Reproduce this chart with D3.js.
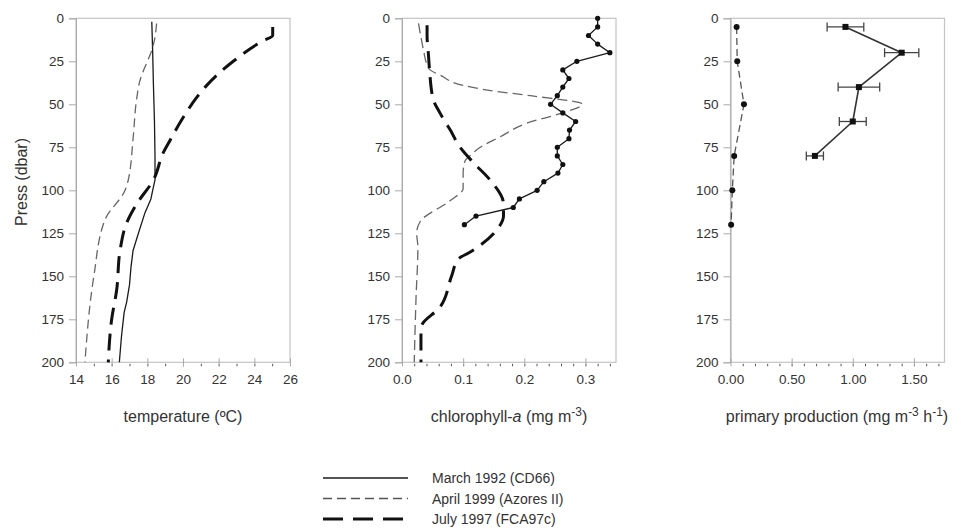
<!DOCTYPE html>
<html>
<head>
<meta charset="utf-8">
<title>Temperature, chlorophyll-a and primary production profiles</title>
<script src="https://cdn.jsdelivr.net/npm/d3@7"></script>
<style>
    body { margin: 0; background: #fff; }
    svg { font-family: "Liberation Sans", Arial, sans-serif; }
</style>
</head>
<body>
<svg id="chart" width="961" height="531"></svg>
<script>
// depth axis (dbar)
var depthTicks = [0, 25, 50, 75, 100, 125, 150, 175, 200];

// temperature profiles: [depth, degC]
var tempMarch = [[2,18.25],[20,18.3],[38,18.34],[60,18.4],[80,18.43],[94,18.43],[100,18.3],[105,18.2],[113,17.87],[125,17.5],[135,17.2],[145,17.08],[155,17.0],[165,16.84],[171,16.7],[185,16.55],[200,16.43]];
var tempApril = [[3,18.52],[14,18.37],[20,18.2],[26,17.96],[36,17.59],[47,17.4],[70,17.2],[94,16.93],[100,16.75],[117,15.63],[150,15.0],[200,14.5]];
var tempJuly  = [[5,25.03],[10,25.03],[13,24.5],[25,22.82],[39,21.33],[46,20.77],[59,19.93],[71,19.27],[78,18.9],[94,18.34],[108,17.4],[119,16.84],[135,16.47],[158,16.28],[175,16.0],[200,15.81]];

// chlorophyll-a: [depth, mg m-3]
var chlMarch = [[0,0.32],[5,0.32],[10,0.305],[15,0.32],[20,0.34],[25,0.286],[30,0.263],[35,0.273],[40,0.263],[45,0.254],[50,0.243],[55,0.263],[60,0.284],[65,0.274],[70,0.273],[75,0.254],[80,0.254],[85,0.263],[90,0.255],[95,0.232],[100,0.221],[105,0.192],[110,0.182],[115,0.121],[120,0.102]];
var chlApril = [[3,0.027],[9,0.03],[20,0.036],[26,0.04],[30,0.046],[33,0.062],[39,0.1],[42,0.145],[45,0.21],[50,0.295],[55,0.262],[61,0.204],[69,0.16],[75,0.128],[80,0.111],[83,0.103],[90,0.1],[99,0.1],[106,0.079],[118,0.03],[125,0.024],[133,0.026],[162,0.023],[200,0.02]];
var chlJuly  = [[4,0.041],[10,0.041],[20,0.043],[30,0.045],[47,0.051],[55,0.062],[65,0.079],[75,0.095],[84,0.117],[94,0.144],[108,0.166],[115,0.166],[123,0.155],[136,0.111],[140,0.092],[150,0.081],[168,0.062],[179,0.032],[185,0.031],[200,0.031]];

// primary production: [depth, mg m-3 h-1], March with error
var ppMarch    = [[5,0.94],[20,1.40],[40,1.05],[60,1.00],[80,0.69]];
var ppMarchErr = [0.15, 0.14, 0.17, 0.11, 0.07];
var ppApril    = [[5,0.05],[25,0.055],[50,0.11],[80,0.03],[100,0.015],[120,0.005]];

var svg = d3.select("#chart");
var y = d3.scaleLinear().domain([0, 200]).range([18.3, 362.3]);

var styles = {
    march: { stroke: "#1a1a1a", width: 1.3, dash: null },
    april: { stroke: "#666", width: 1.3, dash: "10,5" },
    july:  { stroke: "#111", width: 3, dash: "17,9" }
};

function makePanel(cfg) {
    var x = d3.scaleLinear().domain(cfg.domain).range([cfg.left, cfg.left + 214]);
    var g = svg.append("g");

    // frame
    g.append("rect")
        .attr("x", x.range()[0]).attr("y", y(0))
        .attr("width", 214).attr("height", y(200) - y(0))
        .attr("fill", "none").attr("stroke", "#c4c4c4").attr("stroke-width", 1.2);

    // minor ticks on x
    g.append("g")
        .attr("transform", "translate(0," + y(200) + ")")
        .call(d3.axisBottom(x).tickValues(cfg.minor).tickSize(4).tickFormat(""))
        .call(function(s) {
            s.select(".domain").remove();
            s.selectAll(".tick line").attr("stroke", "#555").attr("y1", 1.5);
        });

    // major ticks + labels on x
    g.append("g")
        .attr("transform", "translate(0," + y(200) + ")")
        .call(d3.axisBottom(x).tickValues(cfg.major).tickSize(4).tickPadding(8).tickFormat(cfg.fmt))
        .call(function(s) {
            s.select(".domain").remove();
            s.selectAll(".tick line").attr("stroke", "#aaa").attr("y1", -4);
            s.selectAll(".tick text").attr("fill", "#333").style("font-size", "13.5px")
                .style("font-family", "Liberation Sans, Arial, sans-serif");
        });

    // y axis
    g.append("g")
        .attr("transform", "translate(" + x.range()[0] + ",0)")
        .call(d3.axisLeft(y).tickValues(depthTicks).tickSize(7).tickPadding(5))
        .call(function(s) {
            s.select(".domain").attr("stroke", "#aaa");
            s.selectAll(".tick line").attr("stroke", "#aaa");
            s.selectAll(".tick text").attr("fill", "#333").style("font-size", "13.5px")
                .style("font-family", "Liberation Sans, Arial, sans-serif");
        });

    return { g: g, x: x };
}

function drawLine(p, data, st, curve) {
    var line = d3.line()
        .x(function(d) { return p.x(d[1]); })
        .y(function(d) { return y(d[0]); })
        .curve(curve || d3.curveLinear);
    p.g.append("path")
        .datum(data)
        .attr("d", line)
        .attr("fill", "none")
        .attr("stroke", st.stroke)
        .attr("stroke-width", st.width)
        .attr("stroke-dasharray", st.dash)
        .attr("stroke-linejoin", "round");
}

// panel 1: temperature
var p1 = makePanel({ left: 76, domain: [14, 26], major: d3.range(14, 27, 2), minor: d3.range(15, 26, 1), fmt: d3.format("d") });
drawLine(p1, tempMarch, styles.march);
drawLine(p1, tempApril, { stroke: "#666", width: 1.3, dash: "9,5" }, d3.curveMonotoneY);
drawLine(p1, tempJuly, styles.july, d3.curveMonotoneY);

// panel 2: chlorophyll-a
var p2 = makePanel({ left: 402, domain: [0, 0.35], major: [0, 0.1, 0.2, 0.3], minor: d3.range(1, 18).map(function(i) { return i * 0.02; }), fmt: d3.format(".1f") });
drawLine(p2, chlApril, styles.april, d3.curveMonotoneY);
drawLine(p2, chlJuly, styles.july, d3.curveMonotoneY);
drawLine(p2, chlMarch, styles.march);
p2.g.selectAll("circle.chl").data(chlMarch).enter().append("circle")
    .attr("cx", function(d) { return p2.x(d[1]); })
    .attr("cy", function(d) { return y(d[0]); })
    .attr("r", 2.6).attr("fill", "#111");

// panel 3: primary production
var p3 = makePanel({ left: 730.5, domain: [0, 1.75], major: [0, 0.5, 1.0, 1.5], minor: d3.range(1, 18).map(function(i) { return i * 0.1; }), fmt: d3.format(".2f") });
drawLine(p3, ppApril, { stroke: "#555", width: 1.3, dash: "7,4" });
drawLine(p3, ppMarch, { stroke: "#333", width: 1.6, dash: null });
p3.g.selectAll("circle.pp").data(ppApril).enter().append("circle")
    .attr("cx", function(d) { return p3.x(d[1]); })
    .attr("cy", function(d) { return y(d[0]); })
    .attr("r", 3).attr("fill", "#111");

var eb = p3.g.selectAll("g.err").data(ppMarch).enter().append("g");
eb.append("line")
    .attr("x1", function(d, i) { return p3.x(d[1] - ppMarchErr[i]); })
    .attr("x2", function(d, i) { return p3.x(d[1] + ppMarchErr[i]); })
    .attr("y1", function(d) { return y(d[0]); })
    .attr("y2", function(d) { return y(d[0]); });
eb.append("line")
    .attr("x1", function(d, i) { return p3.x(d[1] - ppMarchErr[i]); })
    .attr("x2", function(d, i) { return p3.x(d[1] - ppMarchErr[i]); })
    .attr("y1", function(d) { return y(d[0]) - 4.5; })
    .attr("y2", function(d) { return y(d[0]) + 4.5; });
eb.append("line")
    .attr("x1", function(d, i) { return p3.x(d[1] + ppMarchErr[i]); })
    .attr("x2", function(d, i) { return p3.x(d[1] + ppMarchErr[i]); })
    .attr("y1", function(d) { return y(d[0]) - 4.5; })
    .attr("y2", function(d) { return y(d[0]) + 4.5; });
eb.selectAll("line").attr("stroke", "#444").attr("stroke-width", 1.3);
eb.append("rect")
    .attr("x", function(d) { return p3.x(d[1]) - 3; })
    .attr("y", function(d) { return y(d[0]) - 3; })
    .attr("width", 6).attr("height", 6).attr("fill", "#111");

// axis titles
var titleY = 422;
svg.append("text").attr("x", 183).attr("y", titleY).attr("text-anchor", "middle")
    .attr("fill", "#333").style("font-size", "16px").text("temperature (ºC)");

var t2 = svg.append("text").attr("x", 509).attr("y", titleY).attr("text-anchor", "middle")
    .attr("fill", "#333").style("font-size", "16px");
t2.append("tspan").text("chlorophyll-");
t2.append("tspan").style("font-style", "italic").text("a");
t2.append("tspan").text(" (mg m");
t2.append("tspan").attr("dy", -6).style("font-size", "12px").text("-3");
t2.append("tspan").attr("dy", 6).text(")");

var t3 = svg.append("text").attr("x", 837).attr("y", titleY).attr("text-anchor", "middle")
    .attr("fill", "#333").style("font-size", "16px");
t3.append("tspan").text("primary production (mg m");
t3.append("tspan").attr("dy", -6).style("font-size", "12px").text("-3");
t3.append("tspan").attr("dy", 6).text(" h");
t3.append("tspan").attr("dy", -6).style("font-size", "12px").text("-1");
t3.append("tspan").attr("dy", 6).text(")");

// y title
svg.append("text")
    .attr("transform", "translate(27,182) rotate(-90)")
    .attr("text-anchor", "middle").attr("fill", "#333").style("font-size", "16px")
    .text("Press (dbar)");

// legend
var legendLabels = ["March 1992 (CD66)", "April 1999 (Azores II)", "July 1997 (FCA97c)"];
var legendStyles = [styles.march, { stroke: "#555", width: 1.3, dash: "9,5" }, { stroke: "#111", width: 3, dash: "20,10" }];
var legendY = d3.scalePoint().domain(legendLabels).range([478, 519]);
var lg = svg.append("g").selectAll("g").data(legendLabels).enter().append("g")
    .attr("transform", function(d) { return "translate(0," + legendY(d) + ")"; });
lg.append("line").attr("x1", 323).attr("x2", 408)
    .attr("stroke", function(d, i) { return legendStyles[i].stroke; })
    .attr("stroke-width", function(d, i) { return legendStyles[i].width; })
    .attr("stroke-dasharray", function(d, i) { return legendStyles[i].dash; });
lg.append("text").attr("x", 432).attr("y", 5).attr("fill", "#333").style("font-size", "14px")
    .text(function(d) { return d; });
</script>
</body>
</html>
